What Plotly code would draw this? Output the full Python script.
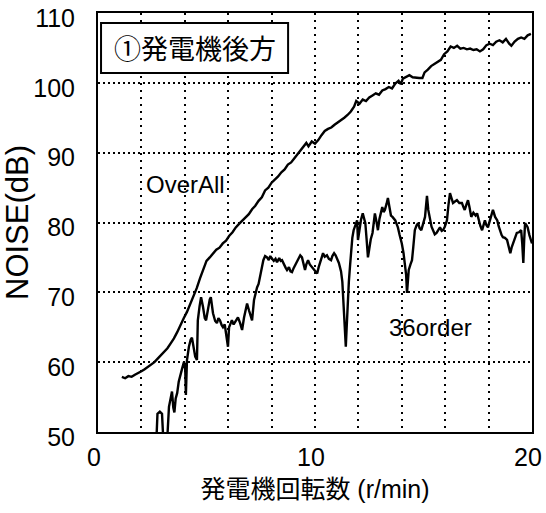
import plotly.graph_objects as go

# Generator speed (r/min) and noise level (dB) -- overall level
overall_rpm = [1.10, 1.25, 1.40, 1.55, 1.70, 1.85, 2.00, 2.15, 2.30, 2.45, 2.60, 2.75, 2.90, 3.05,
               3.20, 3.35, 3.50, 3.65, 3.80, 3.95, 4.10, 4.25, 4.40, 4.55, 4.70, 4.85, 5.00, 5.15,
               5.30, 5.45, 5.60, 5.75, 5.90, 6.05, 6.20, 6.35, 6.50, 6.65, 6.80, 6.95, 7.10, 7.25,
               7.40, 7.55, 7.70, 7.85, 8.00, 8.15, 8.30, 8.45, 8.60, 8.75, 8.90, 9.05, 9.20, 9.35,
               9.50, 9.60, 9.70, 9.85, 10.00, 10.15, 10.30, 10.45, 10.60, 10.75, 10.90, 11.05,
               11.20, 11.35, 11.50, 11.65, 11.80, 11.90, 12.05, 12.20, 12.35, 12.50, 12.65, 12.80,
               12.95, 13.10, 13.25, 13.40, 13.55, 13.70, 13.85, 13.95, 14.05, 14.20, 14.35, 14.50,
               14.65, 14.80, 14.95, 15.05, 15.20, 15.35, 15.50, 15.65, 15.80, 15.95, 16.10, 16.25,
               16.40, 16.55, 16.70, 16.85, 17.00, 17.15, 17.30, 17.45, 17.60, 17.75, 17.90, 18.05,
               18.20, 18.35, 18.50, 18.65, 18.80, 18.95, 19.05, 19.20, 19.35, 19.50, 19.65, 19.80,
               19.95]
overall_db = [57.9, 57.7, 58.0, 57.9, 58.2, 58.4, 58.7, 59.0, 59.3, 59.6, 60.0, 60.5, 61.0, 61.5,
              62.0, 62.7, 63.4, 64.3, 65.4, 66.3, 67.2, 68.3, 69.4, 70.6, 72.0, 73.4, 74.5, 75.0,
              75.6, 76.1, 76.4, 77.0, 77.4, 78.1, 78.6, 79.3, 79.8, 80.3, 80.8, 81.2, 81.9, 82.4,
              83.1, 83.6, 84.6, 85.0, 85.7, 86.1, 86.6, 87.2, 87.6, 88.3, 88.6, 89.2, 89.8, 90.3,
              90.9, 91.4, 90.9, 91.6, 91.3, 91.8, 92.5, 93.1, 93.4, 93.6, 94.0, 94.3,
              94.6, 95.0, 95.4, 95.9, 96.6, 97.4, 97.0, 97.6, 97.4, 97.9, 98.2, 98.5,
              98.3, 98.9, 99.1, 99.4, 99.2, 99.9, 100.3, 99.8, 100.6, 100.9, 101.1, 100.8,
              100.7, 100.7, 100.7, 101.5, 101.9, 102.4, 102.7, 103.0, 103.3, 104.1, 104.5, 105.2,
              105.0, 105.3, 104.9, 105.0, 104.8, 104.9, 104.7, 104.8, 104.5, 104.8, 105.4, 105.6,
              105.4, 105.9, 106.1, 105.8, 106.3, 105.6, 105.3, 105.9, 106.3, 106.5, 106.3, 106.8,
              107.0]

# 36th order component
order36_rpm = [2.60, 2.70, 2.74, 2.85, 2.95, 3.00, 3.10, 3.20, 3.27, 3.35, 3.41, 3.47, 3.52, 3.58,
               3.65, 3.72, 3.80, 3.87, 3.96, 4.02, 4.05, 4.10, 4.19, 4.27, 4.33, 4.40, 4.48, 4.56,
               4.60, 4.68, 4.75, 4.84, 4.92, 4.98, 5.07, 5.15, 5.20, 5.30, 5.40, 5.48, 5.55, 5.62,
               5.70, 5.76, 5.84, 5.90, 5.95, 5.99, 6.04, 6.10, 6.17, 6.25, 6.31, 6.38, 6.45, 6.55,
               6.64, 6.73, 6.80, 6.87, 6.96, 7.05, 7.10, 7.19, 7.27, 7.33, 7.40, 7.47, 7.55, 7.62,
               7.70, 7.79, 7.87, 7.94, 8.00, 8.10, 8.18, 8.25, 8.35, 8.42, 8.48, 8.58, 8.65, 8.71,
               8.80, 8.87, 8.94, 9.02, 9.10, 9.17, 9.25, 9.32, 9.40, 9.47, 9.54, 9.60, 9.68, 9.76,
               9.86, 9.94, 10.02, 10.10, 10.17, 10.23, 10.30, 10.37, 10.45, 10.55, 10.64, 10.74,
               10.80, 10.88, 10.95, 11.00, 11.10, 11.20, 11.26, 11.32, 11.38, 11.42, 11.46, 11.50,
               11.56, 11.62, 11.67, 11.72, 11.78, 11.86, 11.94, 11.98, 12.05, 12.12, 12.20, 12.26,
               12.32, 12.38, 12.44, 12.50, 12.57, 12.65, 12.72, 12.76, 12.84, 12.90, 12.97, 13.04,
               13.10, 13.16, 13.22, 13.30, 13.36, 13.42, 13.50, 13.57, 13.63, 13.70, 13.76, 13.82,
               13.90, 14.00, 14.08, 14.14, 14.20, 14.24, 14.28, 14.32, 14.40, 14.47, 14.53, 14.60,
               14.68, 14.75, 14.82, 14.90, 14.98, 15.07, 15.12, 15.16, 15.22, 15.30, 15.37, 15.44,
               15.52, 15.60, 15.68, 15.76, 15.84, 15.90, 15.98, 16.08, 16.15, 16.22, 16.30, 16.36,
               16.45, 16.54, 16.65, 16.77, 16.84, 16.90, 16.98, 17.05, 17.12, 17.20, 17.30, 17.40,
               17.47, 17.55, 17.62, 17.70, 17.77, 17.83, 17.90, 17.97, 18.05, 18.12, 18.20, 18.30,
               18.40, 18.46, 18.52, 18.60, 18.66, 18.75, 18.85, 18.93, 19.00, 19.06, 19.12, 19.20,
               19.30, 19.40, 19.50, 19.55, 19.60, 19.64, 19.68, 19.75, 19.80, 19.88, 19.95, 20.00]
order36_db = [47.0, 49.5, 52.6, 52.9, 52.6, 49.5, 48.5, 49.5, 53.6, 55.0, 55.8, 53.5, 52.8, 54.8,
              55.6, 57.2, 58.0, 59.0, 60.0, 59.0, 55.3, 60.3, 62.2, 63.2, 63.5, 62.4, 60.8, 60.3,
              66.0, 68.0, 69.3, 67.9, 66.3, 66.0, 67.9, 69.0, 69.3, 67.0, 65.9, 65.6, 66.3, 66.0,
              65.3, 65.0, 65.4, 64.3, 63.0, 62.2, 65.0, 65.5, 66.0, 65.4, 65.7, 66.2, 66.4, 65.6,
              64.6, 66.4, 67.6, 68.4, 67.4, 66.3, 66.0, 68.9, 70.0, 70.7, 71.2, 72.2, 73.5, 74.6,
              75.2, 75.0, 74.6, 75.2, 74.9, 74.5, 74.8, 74.3, 74.9, 74.5, 74.6, 73.8, 73.5, 73.2,
              73.6, 73.0, 72.9, 73.5, 74.0, 74.2, 74.9, 75.3, 75.0, 74.0, 73.2, 74.0, 74.6, 74.0,
              73.6, 73.2, 72.9, 72.7, 73.6, 74.2, 75.0, 75.6, 75.1, 75.3, 74.8, 74.6,
              75.2, 75.6, 75.3, 75.0, 74.2, 73.0, 71.5, 68.0, 64.5, 62.2, 65.0, 68.4,
              71.5, 74.0, 76.5, 77.8, 78.9, 79.6, 80.3, 77.5, 79.0, 80.4, 81.3, 80.5,
              79.9, 77.5, 75.0, 76.2, 77.6, 78.5, 80.1, 81.3, 80.0, 78.9, 80.5, 81.6,
              82.2, 81.5, 81.8, 82.7, 83.5, 82.4, 81.0, 80.8, 80.6, 80.3, 79.8, 79.3,
              78.2, 77.0, 75.6, 74.2, 72.5, 69.9, 72.0, 73.2, 74.0, 74.6, 76.5, 78.9,
              79.6, 79.9, 79.2, 78.9, 79.8, 80.8, 82.5, 83.8, 81.8, 80.3, 79.4, 78.9,
              78.3, 78.5, 79.0, 79.3, 78.8, 78.9, 79.4, 80.3, 82.5, 84.2, 83.4, 82.8,
              83.0, 83.2, 82.8, 82.8, 82.2, 81.8, 82.6, 83.2, 82.2, 80.8, 81.4, 81.0,
              81.3, 80.2, 79.5, 78.9, 79.8, 80.3, 79.6, 79.3, 80.2, 81.0, 81.8, 80.8,
              80.3, 79.5, 78.9, 78.2, 77.9, 77.8, 77.5, 76.6, 75.6, 76.4, 77.0, 77.8,
              78.5, 78.6, 78.9, 77.0, 74.2, 77.5, 79.9, 79.6, 79.3, 78.2, 77.3, 77.0]

x_tick_vals = [0, 2, 4, 6, 8, 10, 12, 14, 16, 18, 20]
x_tick_text = ["0", "", "", "", "", "10", "", "", "", "", "20"]
y_tick_vals = [50, 60, 70, 80, 90, 100, 110]

LATIN = "Liberation Sans, Arial, Helvetica, sans-serif"
MIXED = "Liberation Sans, Noto Sans CJK JP, sans-serif"
CJK = "Noto Sans CJK JP, sans-serif"

fig = go.Figure()
fig.add_trace(go.Scatter(x=overall_rpm, y=overall_db, mode="lines",
                         line=dict(color="black", width=2.4), name="OverAll"))
fig.add_trace(go.Scatter(x=order36_rpm, y=order36_db, mode="lines",
                         line=dict(color="black", width=2.4), name="36order"))

fig.update_layout(
    width=546, height=513,
    margin=dict(l=98, r=14, t=13, b=81),
    paper_bgcolor="white", plot_bgcolor="white",
    showlegend=False,
    font=dict(family=LATIN, color="black"),
)

fig.update_xaxes(
    range=[0, 20], tickvals=x_tick_vals, ticktext=x_tick_text,
    automargin=False,
    showline=True, mirror=True, linecolor="black", linewidth=2,
    showgrid=True, gridcolor="black", gridwidth=2, griddash="2px,5px",
    zeroline=False, ticks="",
    tickfont=dict(size=25, family=LATIN), ticklabelshift=-4, ticklabelstandoff=2,
    ticklabeloverflow="allow",
    title=dict(text="発電機回転数 (r/min)", font=dict(size=25, family=MIXED), standoff=10),
)
fig.update_yaxes(
    range=[50, 110], tickvals=y_tick_vals,
    automargin=False,
    showline=True, mirror=True, linecolor="black", linewidth=2,
    showgrid=True, gridcolor="black", gridwidth=2, griddash="2px,3px",
    zeroline=False, ticks="",
    tickfont=dict(size=25, family=LATIN), ticklabelstandoff=16, ticklabelshift=5,
    ticklabeloverflow="allow",
    title=dict(text="NOISE(dB)", font=dict(size=31, family=LATIN), standoff=4),
)

# Panel caption: framed box with the location label
fig.add_shape(type="rect", xref="paper", yref="paper",
              x0=0.007, x1=0.438, y0=0.857, y1=0.976,
              line=dict(color="black", width=2), fillcolor="white", layer="above")
fig.add_annotation(text="①発電機後方", xref="paper", yref="paper", x=0.2235, y=0.9165,
                   xanchor="center", yanchor="middle", showarrow=False,
                   font=dict(size=27, family=CJK, color="black"))

# Curve labels
fig.add_annotation(text="OverAll", x=4.05, y=85.5, showarrow=False,
                   font=dict(size=24, family=LATIN, color="black"))
fig.add_annotation(text="36order", x=15.3, y=64.9, showarrow=False,
                   font=dict(size=24, family=LATIN, color="black"))

fig.write_html("out.html")
